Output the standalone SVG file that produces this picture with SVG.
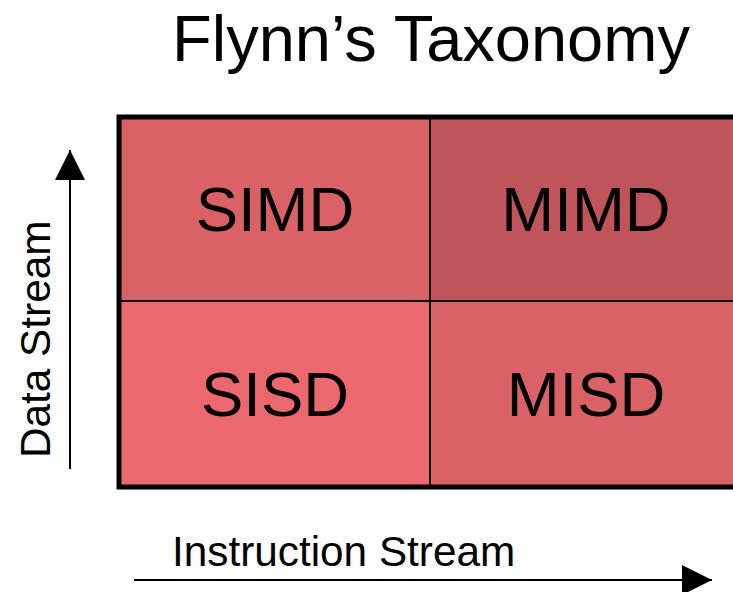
<svg xmlns="http://www.w3.org/2000/svg" width="733" height="592" viewBox="0 0 733 592">
  <style>
    text { font-family: "Liberation Sans", Arial, sans-serif; fill: #000; }
    .cell-label { font-size: 63.5px; text-anchor: middle; }
    .axis-label { font-size: 42.3px; }
    .title { font-size: 65px; text-anchor: middle; }
    .cell { stroke: #000; stroke-width: 2; }
    .axis { stroke: #000; stroke-width: 2; fill: none; }
  </style>
  <defs>
    <marker id="arrowhead" viewBox="0 0 30 30" refX="30" refY="15" markerWidth="30" markerHeight="30" markerUnits="userSpaceOnUse" orient="auto">
      <path d="M0,0 L30,15 L0,30 Z" fill="#000"/>
    </marker>
  </defs>

  <rect width="733" height="592" fill="#fff"/>

  <text class="title" x="431" y="61">Flynn’s Taxonomy</text>

  <!-- quadrant grid -->
  <g id="simd">
    <rect class="cell" x="119" y="117" width="311" height="184" fill="#DA6166"/>
    <text class="cell-label" x="275" y="231">SIMD</text>
  </g>
  <g id="mimd">
    <rect class="cell" x="430" y="117" width="313" height="184" fill="#BF545A"/>
    <text class="cell-label" x="586" y="231">MIMD</text>
  </g>
  <g id="sisd">
    <rect class="cell" x="119" y="301" width="311" height="186" fill="#EB686E"/>
    <text class="cell-label" x="275" y="416">SISD</text>
  </g>
  <g id="misd">
    <rect class="cell" x="430" y="301" width="313" height="186" fill="#DA6166"/>
    <text class="cell-label" x="586" y="416">MISD</text>
  </g>
  <!-- heavy outer frame -->
  <rect x="119" y="117" width="624" height="370" fill="none" stroke="#000" stroke-width="5"/>

  <!-- axes -->
  <g id="connectors">
    <line class="axis" x1="70" y1="469" x2="70" y2="150" marker-end="url(#arrowhead)"/>
    <line class="axis" x1="134" y1="580" x2="712" y2="580" marker-end="url(#arrowhead)"/>
  </g>

  <g id="data-stream">
    <text class="axis-label" transform="translate(50,458) rotate(-90)">Data Stream</text>
  </g>
  <g id="instruction-stream">
    <text class="axis-label" x="172" y="566">Instruction Stream</text>
  </g>
</svg>
